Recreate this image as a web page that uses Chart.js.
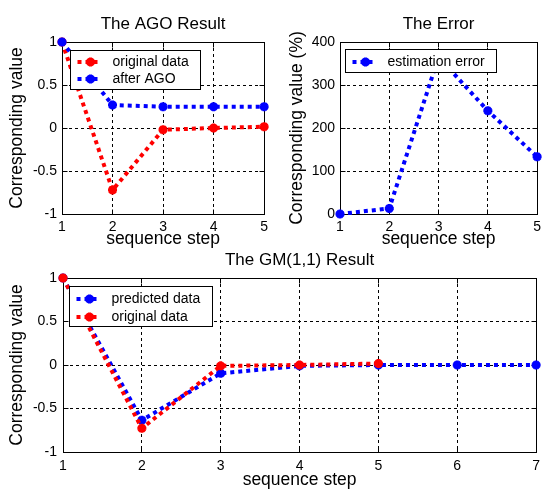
<!DOCTYPE html>
<html><head><meta charset="utf-8">
<script src="https://cdn.jsdelivr.net/npm/chart.js@4.4.0/dist/chart.umd.min.js"></script>
<style>
html,body{margin:0;padding:0;background:#fff;}
#wrap{position:relative;width:546px;height:494px;overflow:hidden;background:#fff;}
canvas{position:absolute;}
</style></head><body>
<div id="wrap">
<canvas id="c1" width="273" height="250" style="left:0;top:0"></canvas>
<canvas id="c2" width="273" height="250" style="left:273px;top:0"></canvas>
<canvas id="c3" width="546" height="244" style="left:0;top:250px"></canvas>
</div>
<script>
// ---- data ----
const agoSteps = [1, 2, 3, 4, 5];
const agoOriginal = [1, -0.722, -0.02, 0.0, 0.015];
const agoAfter = [1, 0.267, 0.248, 0.248, 0.248];
const errSteps = [1, 2, 3, 4, 5];
const errValues = [0, 13, 365, 240, 133];
const gmSteps = [1, 2, 3, 4, 5, 6, 7];
const gmOriginalSteps = [1, 2, 3, 4, 5];
const gmPredicted = [1, -0.635, -0.096, -0.01, 0.0, 0.0, 0.0];
const gmOriginal = [1, -0.728, -0.01, 0.0, 0.017];
const valueTickLabels = ['-1', '-0.5', '0', '0.5', '1'];
const errorTickLabels = ['0', '100', '200', '300', '400'];
const stepTickLabels5 = ['1', '2', '3', '4', '5'];
const stepTickLabels7 = ['1', '2', '3', '4', '5', '6', '7'];
const titles = ['The AGO Result', 'The Error', 'The GM(1,1) Result'];
const xTitle = 'sequence step';
const yTitles = ['Corresponding value', 'Corresponding value (%)'];
const names = {original: 'original data', after: 'after AGO', error: 'estimation error', predicted: 'predicted data'};

const FONT = '"Liberation Sans", Arial, Helvetica, sans-serif';
Chart.defaults.font.family = FONT;
Chart.defaults.color = '#000';

const pts = (xs, ys) => ys.map((y, i) => ({x: xs[i], y: y}));

function drawStar(ctx, x, y, r) {
  const d = r * Math.SQRT1_2;
  ctx.beginPath();
  ctx.moveTo(x, y - r); ctx.lineTo(x, y + r);
  ctx.moveTo(x - r, y); ctx.lineTo(x + r, y);
  ctx.moveTo(x - d, y - d); ctx.lineTo(x + d, y + d);
  ctx.moveTo(x + d, y - d); ctx.lineTo(x - d, y + d);
  ctx.stroke();
}

const al = p => Math.round(p - 0.5) + 0.5;

const boxPlugin = {
  id: 'mbox',
  beforeDatasetsDraw(chart) {
    const {ctx, scales} = chart;
    const xs = scales.x, ys = scales.y;
    const L = al(xs.getPixelForValue(xs.min)), R = al(xs.getPixelForValue(xs.max));
    const T = al(ys.getPixelForValue(ys.max)), B = al(ys.getPixelForValue(ys.min));
    ctx.save();
    ctx.setLineDash([]);
    ctx.strokeStyle = '#000';
    ctx.lineWidth = 1;
    ctx.beginPath();
    xs.ticks.forEach(t => {
      const p = al(xs.getPixelForValue(t.value));
      ctx.moveTo(p, B); ctx.lineTo(p, B - 5);
      ctx.moveTo(p, T); ctx.lineTo(p, T + 5);
    });
    ys.ticks.forEach(t => {
      const p = al(ys.getPixelForValue(t.value));
      ctx.moveTo(L, p); ctx.lineTo(L + 5, p);
      ctx.moveTo(R, p); ctx.lineTo(R - 5, p);
    });
    ctx.stroke();
    ctx.strokeRect(L, T, R - L, B - T);
    ctx.restore();
  }
};

const legendPlugin = {
  id: 'mlegend',
  afterDraw(chart, args, o) {
    const {ctx, chartArea: a} = chart;
    const ds = chart.data.datasets;
    ctx.save();
    ctx.font = '14px ' + FONT;
    const tw = Math.max(...ds.map(d => ctx.measureText(d.label).width));
    const x0 = al(a.left + o.dx), y0 = al(a.top + o.dy);
    const w = Math.round(7 + 35 + tw + 12), h = o.h;
    ctx.fillStyle = '#fff';
    ctx.fillRect(x0, y0, w, h);
    ctx.strokeStyle = '#000'; ctx.lineWidth = 1; ctx.setLineDash([]);
    ctx.strokeRect(x0, y0, w, h);
    ds.forEach((d, i) => {
      const y = Math.round(y0 + o.row0 + i * o.rowGap);
      const sx = x0 + 7;
      ctx.strokeStyle = d.borderColor;
      ctx.lineWidth = d.borderWidth;
      ctx.setLineDash(d.borderDash);
      ctx.beginPath(); ctx.moveTo(sx, y); ctx.lineTo(sx + 24, y); ctx.stroke();
      ctx.setLineDash([]);
      ctx.lineWidth = d.pointBorderWidth;
      drawStar(ctx, sx + 13, y, d.pointRadius);
      ctx.fillStyle = '#000';
      ctx.textBaseline = 'middle';
      ctx.textAlign = 'left';
      ctx.fillText(d.label, sx + 35, y);
    });
    ctx.restore();
  }
};

function ds(label, color, data, order) {
  return {
    label: label, data: data, order: order,
    borderColor: color, backgroundColor: color,
    pointBackgroundColor: color, pointBorderColor: color,
    borderWidth: 4, borderDash: [4, 4],
    pointStyle: 'star', pointRadius: 4.5, pointBorderWidth: 3,
    tension: 0, clip: false, fill: false
  };
}

function makeChart(id, o) {
  return new Chart(document.getElementById(id), {
    type: 'line',
    data: {datasets: o.datasets},
    options: {
      responsive: false, animation: false, events: [],
      layout: {padding: {left: 0, right: o.padRight, top: 0, bottom: 0}},
      plugins: {
        legend: {display: false}, tooltip: {enabled: false},
        title: {display: true, text: o.title, fullSize: false, color: '#000',
          font: {size: 17, weight: 'normal'}, padding: {top: o.titleTop, bottom: o.titleBottom}},
        mlegend: o.legend
      },
      scales: {
        x: {
          type: 'linear', min: o.xMin, max: o.xMax,
          ticks: {stepSize: 1, autoSkip: false, maxRotation: 0, padding: o.xTickPad,
            font: {size: 14}, color: '#000',
            callback: (v, i) => o.xLabels[i]},
          grid: {color: '#000', lineWidth: 1, drawTicks: false},
          border: {display: true, color: '#000', width: 1, dash: [3, 3]},
          title: {display: true, text: xTitle, color: '#000', font: {size: 17.5},
            padding: {top: 0, bottom: o.xTitlePad}},
          afterFit: s => { s.height = o.xHeight; }
        },
        y: {
          type: 'linear', min: o.yMin, max: o.yMax,
          ticks: {stepSize: o.yStep, autoSkip: false, padding: o.yTickPad,
            font: {size: 14}, color: '#000',
            callback: (v, i) => o.yLabels[i]},
          grid: {color: '#000', lineWidth: 1, drawTicks: false},
          border: {display: true, color: '#000', width: 1, dash: [3, 3]},
          title: {display: true, text: o.yTitle, color: '#000', font: {size: 17.5},
            padding: {top: o.yTitlePad, bottom: 0}},
          afterFit: s => { s.width = o.yWidth; }
        }
      }
    },
    plugins: [boxPlugin, legendPlugin]
  });
}

makeChart('c1', {
  title: titles[0], titleTop: 13.8, titleBottom: 7.8,
  datasets: [
    ds(names.original, '#ff0000', pts(agoSteps, agoOriginal), 1),
    ds(names.after, '#0000ff', pts(agoSteps, agoAfter), 0)
  ],
  padRight: 8, xMin: 1, xMax: 5, xLabels: stepTickLabels5, xTickPad: 5, xTitlePad: 0, xHeight: 36,
  yMin: -1, yMax: 1, yStep: 0.5, yLabels: valueTickLabels, yTickPad: 5, yTitle: yTitles[0], yTitlePad: 6.4, yWidth: 62,
  legend: {dx: 8, dy: 8, h: 39, row0: 11.5, rowGap: 16.5}
});

makeChart('c2', {
  title: titles[1], titleTop: 13.8, titleBottom: 7.8,
  datasets: [
    ds(names.error, '#0000ff', pts(errSteps, errValues), 0)
  ],
  padRight: 5, xMin: 1, xMax: 5, xLabels: stepTickLabels5, xTickPad: 5, xTitlePad: 0, xHeight: 36,
  yMin: 0, yMax: 400, yStep: 100, yLabels: errorTickLabels, yTickPad: 5, yTitle: yTitles[1], yTitlePad: 13.9, yWidth: 67,
  legend: {dx: 5, dy: 7, h: 23, row0: 12, rowGap: 0}
});

makeChart('c3', {
  title: titles[2], titleTop: 0.3, titleBottom: 7.3,
  datasets: [
    ds(names.predicted, '#0000ff', pts(gmSteps, gmPredicted), 1),
    ds(names.original, '#ff0000', pts(gmOriginalSteps, gmOriginal), 0)
  ],
  padRight: 5, xMin: 1, xMax: 7, xLabels: stepTickLabels7, xTickPad: 6, xTitlePad: 3, xHeight: 42,
  yMin: -1, yMax: 1, yStep: 0.5, yLabels: valueTickLabels, yTickPad: 6, yTitle: yTitles[0], yTitlePad: 6.4, yWidth: 63,
  legend: {dx: 6, dy: 8, h: 40, row0: 12, rowGap: 18}
});
</script>
</body></html>
